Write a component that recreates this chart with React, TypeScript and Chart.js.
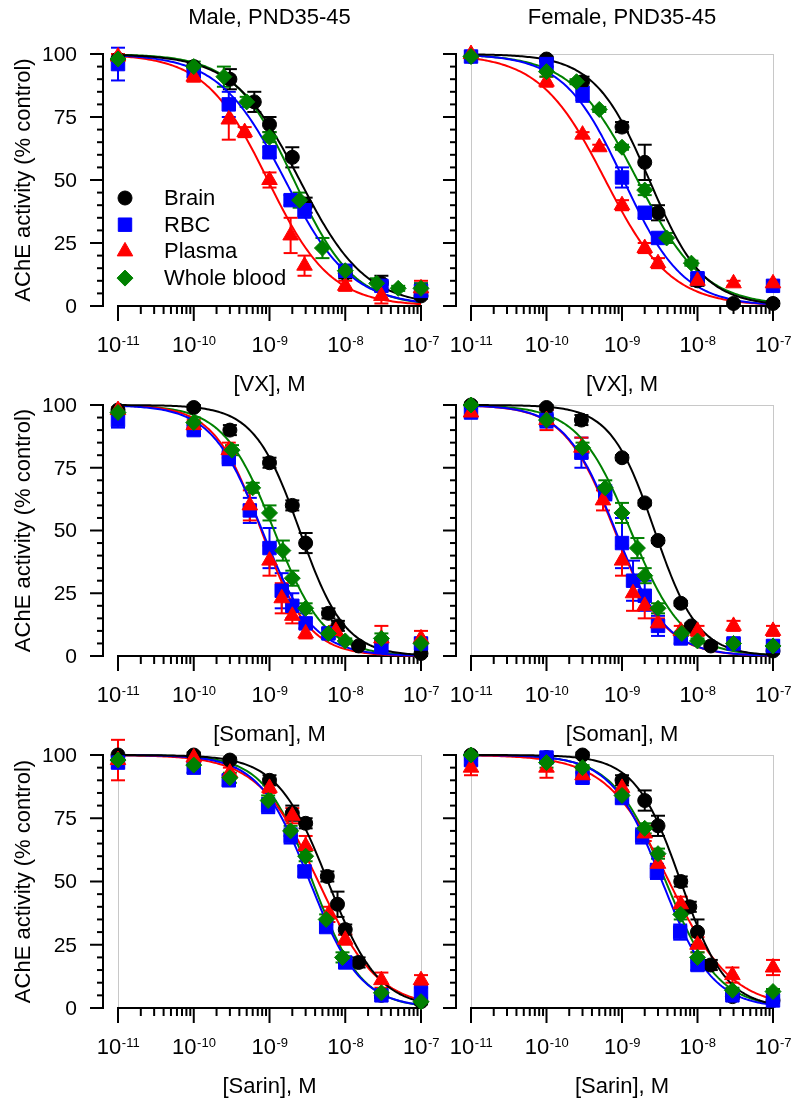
import React, { useEffect, useRef } from 'react';
import { Chart, registerables } from 'chart.js';
import { drawPoint } from 'chart.js/helpers';

Chart.register(...registerables);

type Pt = [number, number, number]; // [concentration M, % control, SEM]

// ---------- Series / labels ----------
const seriesNames = ['Brain', 'RBC', 'Plasma', 'Whole blood'];
const seriesColors = ['#000000', '#0000ff', '#ff0000', '#008000'];
const seriesShapes = ['circle', 'rect', 'triangle', 'rectRot'];
const seriesRadius = [7, 9.5, 9, 8];

const xTickExponents = [-11, -10, -9, -8, -7];
const yTickValues = [0, 25, 50, 75, 100];
const agentLabels = ['[VX], M', '[Soman], M', '[Sarin], M'];
const sexLabels = ['Male, PND35-45', 'Female, PND35-45'];
const yAxisTitle = 'AChE activity (% control)';

// ---------- VX, male ----------
const vxMaleBrain: Pt[] = [[1e-11, 98, 0], [1e-10, 95, 1], [3e-10, 90, 4], [6.3e-10, 81, 4], [1e-9, 72, 3], [2e-9, 59, 4], [3e-9, 40, 3], [1e-8, 13, 2], [3e-8, 9, 3], [1e-7, 4, 1]];
const vxMaleRbc: Pt[] = [[1e-11, 96, 6.5], [1e-10, 93, 2], [2.9e-10, 80, 5], [1e-9, 61, 2], [1.9e-9, 42, 2], [2.9e-9, 38, 3], [1e-8, 14, 2], [3e-8, 8, 2], [1e-7, 6, 3]];
const vxMalePlasma: Pt[] = [[1e-11, 99, 1], [1e-10, 91, 2], [2.9e-10, 74, 8], [4.7e-10, 69, 2], [1e-9, 50, 3], [1.9e-9, 28, 7], [2.9e-9, 16, 4], [1e-8, 8, 2], [3e-8, 4, 3], [1e-7, 7, 3]];
const vxMaleWhole: Pt[] = [[1e-11, 98, 1], [1e-10, 95, 2], [2.5e-10, 91, 4], [5e-10, 81, 2], [1e-9, 67, 2], [2.5e-9, 42, 3], [5e-9, 23, 4], [1e-8, 14, 2], [2.6e-8, 9, 2], [5e-8, 7, 1], [1e-7, 7, 2]];
const vxMaleIC50 = [2.5e-9, 1.6e-9, 9.5e-10, 2.1e-9];
const vxMaleHill = [1.0, 1.0, 1.05, 1.1];

// ---------- VX, female ----------
const vxFemaleBrain: Pt[] = [[1e-11, 99, 0], [1e-10, 98, 1], [3e-10, 89, 2], [1e-9, 71, 2], [2e-9, 57, 7], [3e-9, 37, 3], [1e-8, 10, 2], [3e-8, 1, 1], [1e-7, 1, 1]];
const vxFemaleRbc: Pt[] = [[1e-11, 99, 1], [1e-10, 96, 1], [3e-10, 84, 3], [1e-9, 51, 4], [2e-9, 37, 2], [3e-9, 27, 2], [1e-8, 11, 2], [1e-7, 8, 2]];
const vxFemalePlasma: Pt[] = [[1e-11, 100, 1], [1e-10, 89, 2], [3e-10, 68, 1], [5e-10, 63, 1], [1e-9, 40, 2], [2e-9, 23, 2], [3e-9, 17, 2], [1e-8, 10, 1], [3e-8, 9, 1], [1e-7, 9, 1]];
const vxFemaleWhole: Pt[] = [[1e-11, 99, 1], [1e-10, 93, 2], [2.5e-10, 89, 1], [5e-10, 78, 1], [1e-9, 63, 1], [2e-9, 46, 2], [3.9e-9, 27, 2], [8.3e-9, 17, 1]];
const vxFemaleIC50 = [2.3e-9, 1.05e-9, 6.0e-10, 1.6e-9];
const vxFemaleHill = [1.2, 1.1, 1.0, 1.0];

// ---------- Soman, male ----------
const somanMaleBrain: Pt[] = [[1e-11, 98, 1], [1e-10, 99, 1], [3e-10, 90, 2], [1e-9, 77, 2], [2e-9, 60, 2], [3e-9, 45, 4], [6e-9, 17, 2], [8e-9, 12, 2], [1.5e-8, 4, 1], [1e-7, 1, 1]];
const somanMaleRbc: Pt[] = [[1e-11, 94, 3], [1e-10, 90, 2], [2.9e-10, 79, 3], [5.5e-10, 58, 5], [1e-9, 43, 8], [1.45e-9, 26, 7], [2e-9, 20, 5], [3e-9, 13, 2], [6e-9, 9, 2], [3e-8, 4, 2], [1e-7, 5, 2]];
const somanMalePlasma: Pt[] = [[1e-11, 98, 1], [1e-10, 92, 2], [2.9e-10, 82, 3], [5.5e-10, 60, 6], [1e-9, 38, 6], [1.45e-9, 23, 6], [2e-9, 16, 3], [3e-9, 9, 2], [7.5e-9, 10, 2], [3e-8, 7, 5], [1e-7, 7, 3]];
const somanMaleWhole: Pt[] = [[1e-11, 97, 1], [1e-10, 93, 2], [3.2e-10, 82, 2], [6e-10, 67, 2], [1e-9, 57, 3], [1.5e-9, 42, 4], [2e-9, 31, 3], [3e-9, 19, 2], [6e-9, 9, 2], [1e-8, 6, 1], [3e-8, 7, 2], [1e-7, 5, 2]];
const somanMaleIC50 = [2.5e-9, 8.0e-10, 7.8e-10, 1.15e-9];
const somanMaleHill = [1.45, 1.3, 1.4, 1.3];

// ---------- Soman, female ----------
const somanFemaleBrain: Pt[] = [[1e-11, 100, 0], [1e-10, 99, 1], [2.9e-10, 94, 2], [1e-9, 79, 1], [2e-9, 61, 1], [3e-9, 46, 1], [6e-9, 21, 1], [8.3e-9, 12, 1], [1.5e-8, 4, 1], [1e-7, 2, 1]];
const somanFemaleRbc: Pt[] = [[1e-11, 97, 2], [1e-10, 94, 3], [2.9e-10, 81, 6], [6e-10, 65, 3], [1e-9, 45, 10], [1.4e-9, 30, 8], [2e-9, 24, 6], [3e-9, 12, 4], [6e-9, 7, 2], [3e-8, 5, 2], [1e-7, 4, 2]];
const somanFemalePlasma: Pt[] = [[1e-11, 97, 2], [1e-10, 94, 4], [2.9e-10, 83, 4], [5.6e-10, 62, 4], [1e-9, 38, 6], [1.4e-9, 25, 7], [2e-9, 20, 5], [3e-9, 13, 2], [6e-9, 10, 2], [1e-8, 10, 2], [3e-8, 12, 2], [1e-7, 10, 2]];
const somanFemaleWhole: Pt[] = [[1e-11, 100, 1], [1e-10, 94, 2], [3e-10, 83, 2], [6e-10, 67, 3], [1e-9, 57, 4], [1.6e-9, 43, 4], [2e-9, 32, 3], [3e-9, 19, 2], [6.2e-9, 9, 1], [1e-8, 6, 1], [3e-8, 5, 1], [1e-7, 4, 1]];
const somanFemaleIC50 = [2.7e-9, 8.2e-10, 8.0e-10, 1.3e-9];
const somanFemaleHill = [1.5, 1.3, 1.3, 1.25];

// ---------- Sarin, male ----------
const sarinMaleBrain: Pt[] = [[1e-11, 100, 0], [1e-10, 100, 1], [3e-10, 98, 1], [1e-9, 90, 2], [2e-9, 77, 3], [3e-9, 73, 2], [5.8e-9, 52, 2], [7.9e-9, 41, 5], [1e-8, 31, 2], [1.5e-8, 18, 2], [3e-8, 5, 1], [1e-7, 2.5, 1]];
const sarinMaleRbc: Pt[] = [[1e-11, 97, 2], [1e-10, 95, 2], [2.9e-10, 90, 2], [9.6e-10, 80, 3], [1.9e-9, 68, 3], [2.9e-9, 54, 2], [5.6e-9, 32, 2], [1e-8, 18, 2], [3e-8, 5, 1], [1e-7, 6, 2]];
const sarinMalePlasma: Pt[] = [[1e-11, 98, 8], [1e-10, 99, 1], [3e-10, 93, 2], [1e-9, 87, 2], [2e-9, 76, 3], [3e-9, 64, 4], [6e-9, 37, 3], [1e-8, 27, 2], [3e-8, 11, 3], [1e-7, 11, 2]];
const sarinMaleWhole: Pt[] = [[1e-11, 98, 1], [1e-10, 96, 3], [3e-10, 91, 2], [9.6e-10, 82, 2], [1.9e-9, 70, 2], [3e-9, 60, 2], [5.6e-9, 35, 2], [9.2e-9, 20, 2], [3e-8, 6, 1], [1e-7, 2.5, 1]];
const sarinMaleIC50 = [5.9e-9, 3.4e-9, 4.4e-9, 3.7e-9];
const sarinMaleHill = [1.3, 1.3, 1.1, 1.35];

// ---------- Sarin, female ----------
const sarinFemaleBrain: Pt[] = [[1e-11, 100, 0], [1e-10, 99, 1], [3e-10, 100, 1], [1e-9, 90, 2], [2e-9, 82, 4], [3e-9, 72, 4], [6e-9, 50, 2], [7.9e-9, 40, 2], [1e-8, 30, 5], [1.5e-8, 17, 2], [2.9e-8, 4.5, 1], [1e-7, 3, 1]];
const sarinFemaleRbc: Pt[] = [[1e-11, 98, 2], [1e-10, 99, 1], [3e-10, 91, 2], [1e-9, 83, 2], [1.85e-9, 68, 3], [2.9e-9, 54, 3], [5.9e-9, 30, 3], [1e-8, 17, 2], [2.9e-8, 5, 1], [1e-7, 3, 1]];
const sarinFemalePlasma: Pt[] = [[1e-11, 95, 3], [1e-10, 95, 4], [3e-10, 92, 2], [1e-9, 87, 2], [2e-9, 69, 3], [3e-9, 57, 3], [6e-9, 41, 3], [1e-8, 25, 3], [2.9e-8, 13, 3], [1e-7, 16, 3]];
const sarinFemaleWhole: Pt[] = [[1e-11, 100, 1], [1e-10, 97, 2], [3e-10, 95, 1], [1e-9, 84, 2], [2e-9, 71, 2], [3e-9, 61, 2], [6e-9, 37, 2], [1e-8, 20, 2], [2.9e-8, 7, 1], [1e-7, 6.5, 1]];
const sarinFemaleIC50 = [6.0e-9, 3.4e-9, 4.2e-9, 3.8e-9];
const sarinFemaleHill = [1.45, 1.3, 1.05, 1.25];

const fitTop = 100;
const fitBottom = 0;
const xMin = 1e-11;
const xMax = 1e-7;

// ---------- Layout (pixel geometry, not data) ----------
const colLeft = [118, 471];
const colRight = [421, 773];
const rowTop = [54, 405, 755];
const rowBottom = [306, 656, 1008];
const W = 800;
const H = 1105;
const FONT = '"Liberation Sans", Arial, Helvetica, sans-serif';

interface PanelCfg {
  row: number;
  col: number;
  series: Pt[][];
  ic50: number[];
  hill: number[];
  frame: boolean;
  legend: boolean;
}

const panels: PanelCfg[] = [
  { row: 0, col: 0, series: [vxMaleBrain, vxMaleRbc, vxMalePlasma, vxMaleWhole], ic50: vxMaleIC50, hill: vxMaleHill, frame: false, legend: true },
  { row: 0, col: 1, series: [vxFemaleBrain, vxFemaleRbc, vxFemalePlasma, vxFemaleWhole], ic50: vxFemaleIC50, hill: vxFemaleHill, frame: true, legend: false },
  { row: 1, col: 0, series: [somanMaleBrain, somanMaleRbc, somanMalePlasma, somanMaleWhole], ic50: somanMaleIC50, hill: somanMaleHill, frame: false, legend: false },
  { row: 1, col: 1, series: [somanFemaleBrain, somanFemaleRbc, somanFemalePlasma, somanFemaleWhole], ic50: somanFemaleIC50, hill: somanFemaleHill, frame: true, legend: false },
  { row: 2, col: 0, series: [sarinMaleBrain, sarinMaleRbc, sarinMalePlasma, sarinMaleWhole], ic50: sarinMaleIC50, hill: sarinMaleHill, frame: true, legend: false },
  { row: 2, col: 1, series: [sarinFemaleBrain, sarinFemaleRbc, sarinFemalePlasma, sarinFemaleWhole], ic50: sarinFemaleIC50, hill: sarinFemaleHill, frame: true, legend: false },
];

const curveSteps = 160;
function fittedCurve(ic50: number, hill: number) {
  const pts: { x: number; y: number }[] = [];
  const lo = Math.log10(xMin);
  const hi = Math.log10(xMax);
  for (let i = 0; i <= curveSteps; i++) {
    const x = Math.pow(10, lo + ((hi - lo) * i) / curveSteps);
    pts.push({ x, y: fitBottom + (fitTop - fitBottom) / (1 + Math.pow(x / ic50, hill)) });
  }
  return pts;
}

function line(ctx: CanvasRenderingContext2D, x1: number, y1: number, x2: number, y2: number) {
  ctx.beginPath();
  ctx.moveTo(x1, y1);
  ctx.lineTo(x2, y2);
  ctx.stroke();
}

const decorPlugin = {
  id: 'decor',
  beforeDatasetsDraw(chart: any, _args: any, opts: any) {
    const { ctx, chartArea: a } = chart;
    const xs = chart.scales.x;
    const ys = chart.scales.y;
    ctx.save();
    if (opts.frame) {
      ctx.strokeStyle = '#c8c8c8';
      ctx.lineWidth = 1;
      ctx.strokeRect(Math.round(a.left) + 0.5, Math.round(a.top) + 0.5, a.right - a.left, a.bottom - a.top);
    }
    ctx.strokeStyle = '#000';
    ctx.fillStyle = '#000';
    ctx.lineWidth = 2;
    const ax = a.left - 15;
    const y0 = ys.getPixelForValue(yTickValues[0]);
    const yTop = ys.getPixelForValue(yTickValues[yTickValues.length - 1]);
    line(ctx, ax, y0 + 1, ax, yTop - 1);
    for (let v = yTickValues[0]; v <= yTickValues[yTickValues.length - 1]; v += 5) {
      const py = ys.getPixelForValue(v);
      const major = yTickValues.includes(v);
      line(ctx, ax - (major ? 13 : 6), py, ax + 1, py);
    }
    if (opts.yLabels) {
      ctx.font = `21px ${FONT}`;
      ctx.textAlign = 'right';
      ctx.textBaseline = 'middle';
      yTickValues.forEach((v) => ctx.fillText(String(v), ax - 26, ys.getPixelForValue(v) + 1));
      ctx.save();
      ctx.translate(24, (a.top + a.bottom) / 2);
      ctx.rotate(-Math.PI / 2);
      ctx.font = `22px ${FONT}`;
      ctx.textAlign = 'center';
      ctx.textBaseline = 'middle';
      ctx.fillText(yAxisTitle, 0, 0);
      ctx.restore();
    }
    const xb = a.bottom;
    const xl = xs.getPixelForValue(xMin);
    const xr = xs.getPixelForValue(xMax);
    line(ctx, xl - 1, xb, xr + 1, xb);
    for (let e = xTickExponents[0]; e <= xTickExponents[xTickExponents.length - 1]; e++) {
      const px = xs.getPixelForValue(Math.pow(10, e));
      line(ctx, px, xb, px, xb + 15);
      if (e < xTickExponents[xTickExponents.length - 1]) {
        for (let m = 2; m <= 9; m++) {
          const mx = xs.getPixelForValue(m * Math.pow(10, e));
          line(ctx, mx, xb, mx, xb + 8);
        }
      }
    }
    xTickExponents.forEach((e) => {
      const px = xs.getPixelForValue(Math.pow(10, e));
      ctx.textAlign = 'left';
      ctx.textBaseline = 'alphabetic';
      ctx.font = `22px ${FONT}`;
      const w1 = ctx.measureText('10').width;
      const sup = String(e);
      ctx.font = `13px ${FONT}`;
      const w2 = ctx.measureText(sup).width;
      const sx = px - (w1 + w2) / 2;
      ctx.font = `22px ${FONT}`;
      ctx.fillText('10', sx, xb + 46);
      ctx.font = `13px ${FONT}`;
      ctx.fillText(sup, sx + w1 + 0.5, xb + 39);
    });
    ctx.font = `22px ${FONT}`;
    ctx.textAlign = 'center';
    ctx.textBaseline = 'middle';
    const cx = (a.left + a.right) / 2;
    ctx.fillText(opts.xTitle, cx, xb + 79);
    if (opts.topTitle) ctx.fillText(opts.topTitle, cx, a.top - 36);

    chart.data.datasets.forEach((ds: any) => {
      if (!ds.errors) return;
      ctx.strokeStyle = ds.borderColor;
      ctx.lineWidth = 2;
      ds.data.forEach((p: any, i: number) => {
        const err = ds.errors[i];
        if (!err) return;
        const px = xs.getPixelForValue(p.x);
        const pHi = ys.getPixelForValue(p.y + err);
        const pLo = ys.getPixelForValue(p.y - err);
        line(ctx, px, pHi, px, pLo);
        line(ctx, px - 7, pHi, px + 7, pHi);
        line(ctx, px - 7, pLo, px + 7, pLo);
      });
    });
    ctx.restore();
  },
  afterDatasetsDraw(chart: any, _args: any, opts: any) {
    if (!opts.legend) return;
    const { ctx, chartArea: a } = chart;
    ctx.save();
    seriesNames.forEach((name, i) => {
      const ly = a.top + 144 + i * 26.7;
      const lx = a.left + 7;
      ctx.fillStyle = seriesColors[i];
      ctx.strokeStyle = seriesColors[i];
      ctx.lineWidth = 1;
      drawPoint(ctx, { pointStyle: seriesShapes[i] as any, radius: seriesRadius[i], borderWidth: 1, rotation: 0 }, lx, ly);
      ctx.fillStyle = '#000';
      ctx.font = `22px ${FONT}`;
      ctx.textAlign = 'left';
      ctx.textBaseline = 'middle';
      ctx.fillText(name, a.left + 46, ly + 1);
    });
    ctx.restore();
  },
};

function buildConfig(p: PanelCfg): any {
  const pointSets = p.series.map((pts, i) => ({
    label: seriesNames[i],
    data: pts.map(([x, y]) => ({ x, y })),
    errors: pts.map((d) => d[2]),
    showLine: false,
    pointStyle: seriesShapes[i],
    pointRadius: seriesRadius[i],
    pointBorderWidth: 1,
    backgroundColor: seriesColors[i],
    borderColor: seriesColors[i],
    clip: false,
    order: 3 - i,
  }));
  const curveSets = p.series.map((_pts, i) => ({
    label: seriesNames[i] + ' fit',
    data: fittedCurve(p.ic50[i], p.hill[i]),
    showLine: true,
    pointRadius: 0,
    borderWidth: 2,
    borderColor: seriesColors[i],
    backgroundColor: seriesColors[i],
    tension: 0,
    fill: false,
    clip: false,
    order: 10 + i,
  }));
  return {
    type: 'scatter',
    data: { datasets: [...pointSets, ...curveSets] },
    options: {
      responsive: false,
      maintainAspectRatio: false,
      animation: false,
      events: [],
      layout: {
        padding: {
          left: colLeft[p.col],
          right: W - colRight[p.col],
          top: rowTop[p.row],
          bottom: H - rowBottom[p.row],
        },
      },
      scales: {
        x: { type: 'logarithmic', min: xMin, max: xMax, display: false },
        y: { type: 'linear', min: yTickValues[0], max: yTickValues[yTickValues.length - 1], display: false },
      },
      plugins: {
        legend: { display: false },
        tooltip: { enabled: false },
        title: { display: false },
        decor: {
          frame: p.frame,
          legend: p.legend,
          yLabels: p.col === 0,
          xTitle: agentLabels[p.row],
          topTitle: p.row === 0 ? sexLabels[p.col] : '',
        },
      },
    },
    plugins: [decorPlugin],
  };
}

function Panel({ cfg }: { cfg: PanelCfg }) {
  const ref = useRef<HTMLCanvasElement>(null);
  useEffect(() => {
    if (!ref.current) return;
    const chart = new Chart(ref.current, buildConfig(cfg));
    return () => chart.destroy();
  }, [cfg]);
  return (
    <canvas
      ref={ref}
      width={W}
      height={H}
      style={{ position: 'absolute', left: 0, top: 0, width: W, height: H }}
    />
  );
}

export default function App() {
  return (
    <div style={{ position: 'absolute', left: 0, top: 0, width: W, height: H, background: '#ffffff', overflow: 'hidden' }}>
      {panels.map((p, i) => (
        <Panel key={i} cfg={p} />
      ))}
    </div>
  );
}
